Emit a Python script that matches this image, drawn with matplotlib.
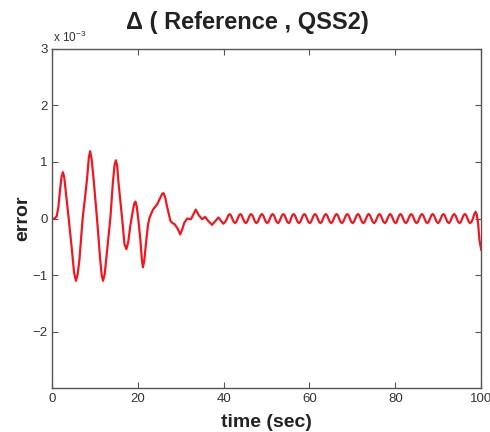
import matplotlib
matplotlib.use("Agg")
import matplotlib.pyplot as plt

plt.rcParams['font.family'] = ['Liberation Sans', 'DejaVu Sans']
plt.rcParams['mathtext.fontset'] = 'custom'
plt.rcParams['mathtext.rm'] = 'Liberation Sans'

# error between reference solution and QSS2, in units of 1e-3
# transient part (0 - 40 s)
t_transient = [0.0, 0.6, 1.1, 1.5, 1.9, 2.25, 2.55, 2.85, 3.2, 3.85,
               4.65, 5.15, 5.6, 6.0, 6.4, 7.15, 7.75, 8.2, 8.6, 8.9,
               9.25, 9.7, 10.5, 11.25, 11.6, 11.9, 12.3, 12.8, 13.6, 14.2,
               14.6, 14.9, 15.2, 15.5, 16.3, 16.9, 17.35, 17.8, 18.25, 18.9,
               19.2, 19.45, 19.75, 20.1, 20.6, 20.95, 21.2, 21.5, 22.0, 22.4,
               22.75, 23.55, 24.5, 25.25, 25.7, 26.0, 26.4, 26.8, 27.6, 28.1,
               28.6, 29.3, 29.9, 30.4, 30.85, 31.5, 32.4, 33.0, 33.5, 34.2,
               35.0, 35.7, 36.5, 37.3, 38.0, 38.8, 39.3, 39.9, 40.35]
err_transient = [0.0, 0.0, 0.04, 0.2, 0.52, 0.74, 0.82, 0.74, 0.5, 0.04,
                 -0.55, -0.95, -1.10, -0.98, -0.73, 0.0, 0.40, 0.72, 1.08, 1.19,
                 1.05, 0.70, 0.0, -0.73, -1.0, -1.10, -0.98, -0.61, 0.0, 0.64,
                 0.95, 1.03, 0.93, 0.64, 0.04, -0.45, -0.54, -0.40, -0.13, 0.16,
                 0.27, 0.30, 0.22, 0.0, -0.37, -0.72, -0.86, -0.75, -0.37, -0.1,
                 0.02, 0.16, 0.25, 0.37, 0.44, 0.45, 0.37, 0.22, -0.04, -0.08,
                 -0.10, -0.18, -0.28, -0.18, -0.07, 0.0, -0.01, 0.08, 0.16, 0.06,
                 -0.01, 0.03, -0.05, -0.11, -0.05, 0.02, -0.03, -0.09, -0.06]

# steady ripple (40 - 100 s), one row per cycle
t_ripple = [40.78, 41.09, 41.4, 41.71, 42.02, 42.33, 42.65, 42.96,
            43.28, 43.59, 43.9, 44.21, 44.52, 44.83, 45.15, 45.46,
            45.78, 46.09, 46.4, 46.71, 47.02, 47.33, 47.65, 47.96,
            48.28, 48.59, 48.9, 49.21, 49.52, 49.83, 50.15, 50.46,
            50.78, 51.09, 51.4, 51.71, 52.02, 52.33, 52.65, 52.96,
            53.28, 53.59, 53.9, 54.21, 54.52, 54.83, 55.15, 55.46,
            55.68, 55.99, 56.3, 56.61, 56.92, 57.23, 57.55, 57.86,
            58.18, 58.49, 58.8, 59.11, 59.42, 59.73, 60.05, 60.36,
            60.68, 60.99, 61.3, 61.61, 61.92, 62.23, 62.55, 62.86,
            63.18, 63.49, 63.8, 64.11, 64.42, 64.73, 65.05, 65.36,
            65.68, 65.99, 66.3, 66.61, 66.92, 67.23, 67.55, 67.86,
            68.18, 68.49, 68.8, 69.11, 69.42, 69.73, 70.05, 70.36,
            70.68, 70.99, 71.3, 71.61, 71.92, 72.23, 72.55, 72.86,
            73.18, 73.49, 73.8, 74.11, 74.42, 74.73, 75.05, 75.36,
            75.68, 75.99, 76.3, 76.61, 76.92, 77.23, 77.55, 77.86,
            78.18, 78.49, 78.8, 79.11, 79.42, 79.73, 80.05, 80.36,
            80.58, 80.89, 81.2, 81.51, 81.82, 82.13, 82.45, 82.76,
            83.08, 83.39, 83.7, 84.01, 84.32, 84.63, 84.95, 85.26,
            85.58, 85.89, 86.2, 86.51, 86.82, 87.13, 87.45, 87.76,
            88.08, 88.39, 88.7, 89.01, 89.32, 89.63, 89.95, 90.26,
            90.58, 90.89, 91.2, 91.51, 91.82, 92.13, 92.45, 92.76,
            93.08, 93.39, 93.7, 94.01, 94.32, 94.63, 94.95, 95.26,
            95.58, 95.89, 96.2, 96.51, 96.82, 97.13, 97.45, 97.76,
            98.08, 98.39, 98.7, 99.0, 99.3, 99.6, 100.0]
err_ripple = [0.0, 0.057, 0.08, 0.057, 0.0, -0.057, -0.08, -0.057,
              0.0, 0.057, 0.08, 0.057, 0.0, -0.057, -0.08, -0.057,
              0.0, 0.057, 0.08, 0.057, 0.0, -0.057, -0.08, -0.057,
              0.0, 0.057, 0.08, 0.057, 0.0, -0.057, -0.08, -0.057,
              0.0, 0.057, 0.08, 0.057, 0.0, -0.057, -0.08, -0.057,
              0.0, 0.057, 0.08, 0.057, 0.0, -0.057, -0.08, -0.057,
              0.0, 0.057, 0.08, 0.057, 0.0, -0.057, -0.08, -0.057,
              0.0, 0.057, 0.08, 0.057, 0.0, -0.057, -0.08, -0.057,
              0.0, 0.057, 0.08, 0.057, 0.0, -0.057, -0.08, -0.057,
              0.0, 0.057, 0.08, 0.057, 0.0, -0.057, -0.08, -0.057,
              0.0, 0.057, 0.08, 0.057, 0.0, -0.057, -0.08, -0.057,
              0.0, 0.057, 0.08, 0.057, 0.0, -0.057, -0.08, -0.057,
              0.0, 0.057, 0.08, 0.057, 0.0, -0.057, -0.08, -0.057,
              0.0, 0.057, 0.08, 0.057, 0.0, -0.057, -0.08, -0.057,
              0.0, 0.057, 0.08, 0.057, 0.0, -0.057, -0.08, -0.057,
              0.0, 0.057, 0.08, 0.057, 0.0, -0.057, -0.08, -0.057,
              0.0, 0.057, 0.08, 0.057, 0.0, -0.057, -0.08, -0.057,
              0.0, 0.057, 0.08, 0.057, 0.0, -0.057, -0.08, -0.057,
              0.0, 0.057, 0.08, 0.057, 0.0, -0.057, -0.08, -0.057,
              0.0, 0.057, 0.08, 0.057, 0.0, -0.057, -0.08, -0.057,
              0.0, 0.057, 0.08, 0.057, 0.0, -0.057, -0.08, -0.057,
              0.0, 0.057, 0.08, 0.057, 0.0, -0.057, -0.08, -0.057,
              0.0, 0.057, 0.08, 0.057, 0.0, -0.057, -0.08, -0.057,
              0.0, 0.08, 0.12, 0.07, -0.1, -0.38, -0.55]

x_ticks = [0, 20, 40, 60, 80, 100]
y_ticks = [-2, -1, 0, 1, 2, 3]

time_s = t_transient + t_ripple
err_milli = err_transient + err_ripple

fig = plt.figure(figsize=(4.9, 4.32), dpi=100)
ax = fig.add_axes([0.106, 0.101, 0.876, 0.786])

ax.plot(time_s, err_milli, color='#f01820', lw=1.6, solid_joinstyle='round')

ax.set_xlim(0, 100)
ax.set_ylim(-3, 3)
ax.set_xticks(x_ticks)
ax.set_yticks(y_ticks)
ax.tick_params(direction='in', top=True, right=True, length=4, width=0.8,
               labelsize=9.5, color='#555555', labelcolor='#333333', pad=3)
for s in ax.spines.values():
    s.set_color('#555555')
    s.set_linewidth(1.0)

ax.set_xlabel('time (sec)', fontsize=14, fontweight='bold', color='#222222', labelpad=7)
ax.set_ylabel('error', fontsize=14, fontweight='bold', color='#222222', labelpad=1)

ax.text(0.003, 1.012, r'x 10$^{-3}$', transform=ax.transAxes, fontsize=8.5,
        color='#333333', ha='left', va='bottom')
fig.text(247 / 490, 1 - 22 / 432, 'Δ ( Reference , QSS2)', ha='center', va='center',
         fontsize=17, fontweight='bold', color='#222222')

fig.savefig('out.png', dpi=100)
